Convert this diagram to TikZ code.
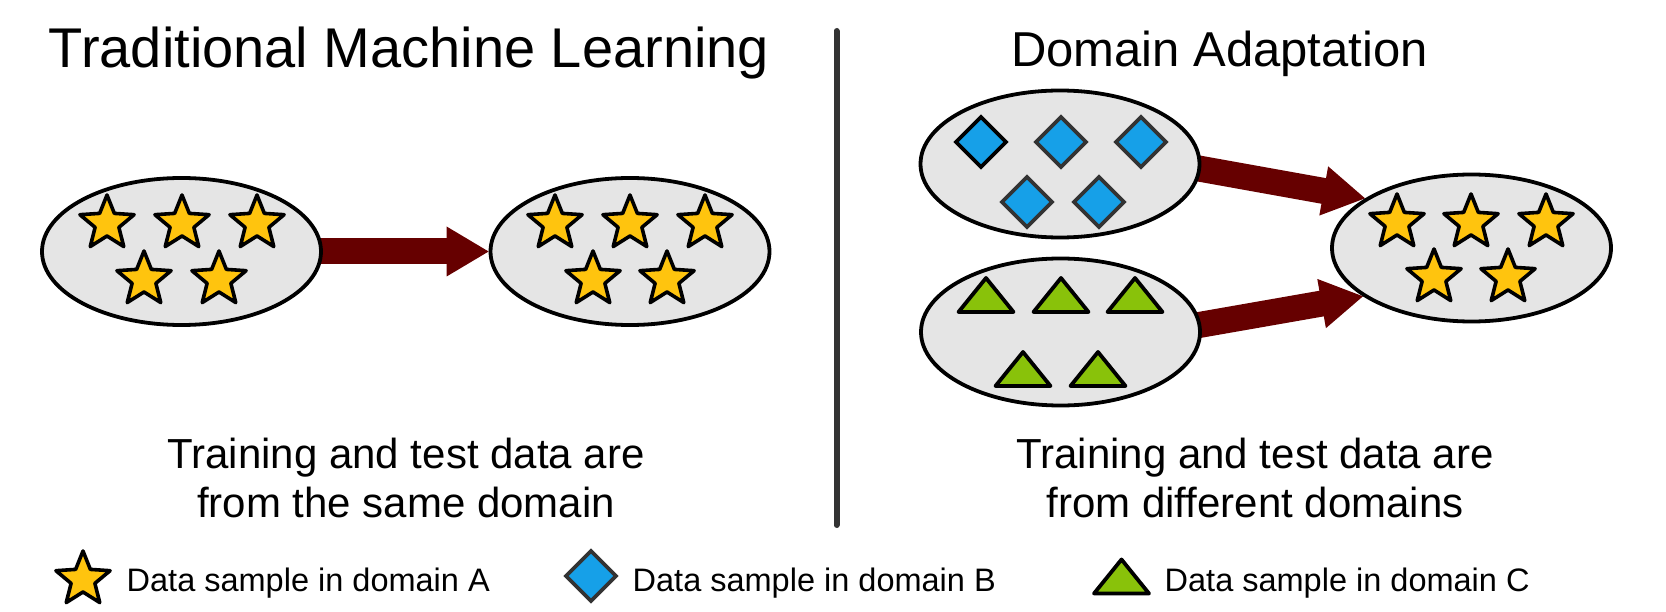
\documentclass[tikz,border=0pt]{standalone}
\usepackage{fontspec}
\setmainfont{Liberation Sans}
\usetikzlibrary{calc,backgrounds,shapes.geometric}
\definecolor{ellfill}{RGB}{229,229,229}
\definecolor{starfill}{RGB}{255,196,14}
\definecolor{diafill}{RGB}{22,160,232}
\definecolor{trifill}{RGB}{137,194,10}
\definecolor{arrowred}{RGB}{102,0,0}
\definecolor{divgray}{RGB}{51,51,51}
\definecolor{diaedge}{RGB}{51,51,51}
\tikzset{
  domainell/.style={ellipse, draw=black, fill=ellfill, line width=3.8pt,
    minimum width=279pt, minimum height=147pt, inner sep=0pt},
  titlefont/.style={font=\fontsize{56}{60}\selectfont, inner sep=0pt},
  capfont/.style={font=\fontsize{42}{49}\selectfont, align=center, inner sep=0pt},
  legfont/.style={font=\fontsize{32.5}{36}\selectfont, inner sep=0pt, anchor=base west},
  pics/staricon/.style={code={
    \draw[black, fill=starfill, line width=3.6pt, line join=round]
      (270:28.5) -- (306:12.5) -- (342:28.5) -- (18:12.5) -- (54:28.5) -- (90:12.5)
      -- (126:28.5) -- (162:12.5) -- (198:28.5) -- (234:12.5) -- cycle;}},
  pics/diaicon/.style={code={
    \draw[draw=#1, fill=diafill, line width=3.6pt]
      (0,-25) -- (25,0) -- (0,25) -- (-25,0) -- cycle;}},
  pics/diaicon/.default=diaedge,
  pics/triicon/.style={code={
    \draw[black, fill=trifill, line width=3.8pt, line join=round]
      (0,-17) -- (27.5,17) -- (-27.5,17) -- cycle;}},
}
\newcommand\fatarrow[2]{%
  \coordinate (hb) at ($(#2)!42pt!(#1)$);
  \draw[arrowred, line width=26pt] ($(#1)!-12pt!(#2)$) -- ($(#2)!41pt!(#1)$);
  \fill[arrowred] (#2) -- ($(hb)!25pt!90:(#2)$) -- ($(hb)!25pt!-90:(#2)$) -- cycle;
}
\begin{document}
\begin{tikzpicture}[x=1pt,y=-1pt]
\useasboundingbox (0,0) rectangle (1666,612);

% titles
\node[titlefont, anchor=base] (t1) at (409,68) {Traditional Machine Learning};
\node[font=\fontsize{49}{54}\selectfont, inner sep=0pt, anchor=base] (t2) at (1219.5,67) {Domain Adaptation};

% divider
\draw[divgray, line width=6pt, line cap=round] (836.5,31) -- (836.5,525);

% domain ellipses
\node[domainell] (l1) at (181.5,251.5) {};
\node[domainell] (l2) at (630,251.5) {};
\node[domainell] (r1) at (1060,164) {};
\node[domainell] (r2) at (1060.5,332) {};
\node[domainell] (r3) at (1471.5,248) {};

% stars left
\foreach \x in {107,182,257} \pic at (\x,223.5) {staricon};
\foreach \x in {144,219} \pic at (\x,279.5) {staricon};
\foreach \x in {555,630,705} \pic at (\x,223.5) {staricon};
\foreach \x in {593,667} \pic at (\x,279.5) {staricon};
% stars right
\foreach \x in {1397,1471,1546} \pic at (\x,222.5) {staricon};
\foreach \x in {1434,1508} \pic at (\x,277.5) {staricon};
% diamonds
\pic at (981,142) {diaicon=black};
\foreach \x in {1061,1141} \pic at (\x,142) {diaicon};
\foreach \x in {1027,1099} \pic at (\x,202) {diaicon};
% triangles
\foreach \x in {986,1061,1135} \pic at (\x,295) {triicon};
\foreach \x in {1023,1098} \pic at (\x,369) {triicon};

% arrows
\begin{pgfonlayer}{background}
\fatarrow{l1.east}{l2.west}
\fatarrow{r1.-2}{r3.155}
\fatarrow{r2.3}{r3.204}
\end{pgfonlayer}

% captions
\node[capfont, anchor=base] (c1) at (406,517) {Training and test data are\\from the same domain};
\node[capfont, anchor=base] (c2) at (1255,517) {Training and test data are\\from different domains};

% legend
\pic at (83,579.5) {staricon};
\node[legfont] (la) at (126.5,591) {Data sample in domain A};
\pic at (591,576) {diaicon};
\node[legfont] (lb) at (632.5,591) {Data sample in domain B};
\pic at (1121.5,576.5) {triicon};
\node[legfont] (lc) at (1164.5,591) {Data sample in domain C};
\end{tikzpicture}
\end{document}
